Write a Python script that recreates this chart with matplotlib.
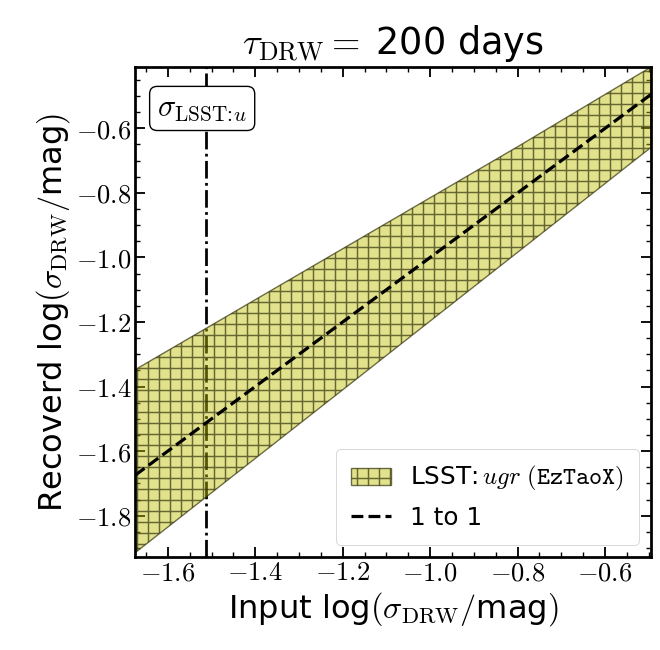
import numpy as np
import matplotlib.pyplot as plt
from matplotlib.ticker import MultipleLocator, FuncFormatter

plt.rcParams['mathtext.fontset'] = 'cm'
plt.rcParams['font.family'] = ['DejaVu Sans']
plt.rcParams['hatch.linewidth'] = 1.6

# band (input log sigma -> recovered range)
x_in = [-1.675, -1.2, -0.8, -0.495]
y_upper = [-1.348, -0.973, -0.657, -0.410]
y_lower = [-1.915, -1.410, -0.984, -0.659]
one_to_one = [-1.675, -0.495]
sigma_lsst_u = -1.513

fig = plt.figure(figsize=(10, 650 / 66), dpi=66)
ax = fig.add_axes([135 / 660, 93 / 650, 516 / 660, 490 / 650])

ax.axvline(sigma_lsst_u, color='k', ls='-.', lw=3, zorder=1)
ax.fill_between(x_in, y_lower, y_upper, facecolor=(0.75, 0.75, 0.0, 0.45),
                edgecolor=(0.2, 0.2, 0.05, 0.7), hatch='+', lw=1.5, zorder=2,
                label=r'LSST:$\,ugr\ (\mathtt{EzTaoX})$')
ax.plot(one_to_one, one_to_one, 'k--', lw=3.5, zorder=3, label='1 to 1')

ax.text(0.043, 0.945, r'$\sigma_{\mathrm{LSST}\!:\!u}$', transform=ax.transAxes,
        fontsize=33, va='top', ha='left',
        bbox=dict(boxstyle='round,pad=0.25', facecolor='white', edgecolor='k', lw=1.5))

ax.set_xlim(-1.675, -0.495)
ax.set_ylim(-1.928, -0.41)
ax.xaxis.set_major_locator(MultipleLocator(0.2))
ax.xaxis.set_minor_locator(MultipleLocator(0.05))
ax.yaxis.set_major_locator(MultipleLocator(0.2))
ax.yaxis.set_minor_locator(MultipleLocator(0.05))
fmt = FuncFormatter(lambda v, p: r'$%.1f$' % v)
ax.xaxis.set_major_formatter(fmt)
ax.yaxis.set_major_formatter(fmt)
ax.tick_params(which='both', direction='in', top=True, right=True, labelsize=29)
ax.tick_params(which='major', length=11, width=2)
ax.tick_params(which='minor', length=5.5, width=1.5)
for s in ax.spines.values():
    s.set_linewidth(3)

ax.set_xlabel(r'Input log$(\sigma_{\rm DRW}/$mag$)$', fontsize=35)
ax.set_ylabel(r'Recoverd log$(\sigma_{\rm DRW}/$mag$)$', fontsize=35)
ax.set_title(r'$\tau_{\rm DRW} = \;$200 days', fontsize=40, pad=14)

ax.legend(loc='lower right', fontsize=27, handlelength=1.6, borderpad=0.6,
          labelspacing=0.5)

fig.savefig('out.png', dpi=66)
